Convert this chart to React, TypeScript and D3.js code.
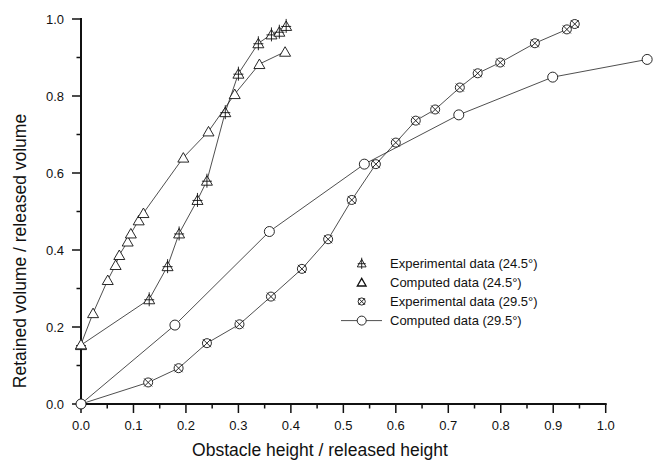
import { useMemo } from 'react'
import * as d3 from 'd3'

// Experimental data (24.5°)
const exp245X = [0, 0.130, 0.165, 0.187, 0.222, 0.240, 0.275, 0.300, 0.338, 0.363, 0.378, 0.391]
const exp245Y = [0.153, 0.272, 0.358, 0.443, 0.530, 0.580, 0.758, 0.858, 0.937, 0.960, 0.967, 0.982]

// Computed data (24.5°)
const com245X = [0, 0.023, 0.051, 0.066, 0.073, 0.089, 0.095, 0.110, 0.119, 0.195, 0.243, 0.293, 0.340, 0.389]
const com245Y = [0.155, 0.236, 0.322, 0.361, 0.387, 0.422, 0.443, 0.477, 0.496, 0.640, 0.708, 0.805, 0.883, 0.915]

// Experimental data (29.5°)
const exp295X = [0, 0.128, 0.186, 0.240, 0.302, 0.362, 0.421, 0.471, 0.516, 0.562, 0.600, 0.638, 0.675, 0.722, 0.756, 0.799, 0.865, 0.926, 0.941]
const exp295Y = [0, 0.056, 0.093, 0.158, 0.207, 0.279, 0.351, 0.428, 0.530, 0.623, 0.679, 0.736, 0.765, 0.822, 0.859, 0.887, 0.937, 0.973, 0.987]

// Computed data (29.5°)
const com295X = [0, 0.179, 0.359, 0.540, 0.720, 0.899, 1.079]
const com295Y = [0, 0.205, 0.448, 0.623, 0.751, 0.849, 0.895]

const xTicks = [0, 0.1, 0.2, 0.3, 0.4, 0.5, 0.6, 0.7, 0.8, 0.9, 1.0]
const yTicks = [0, 0.2, 0.4, 0.6, 0.8, 1.0]

const legendLabels = [
  'Experimental data (24.5°)',
  'Computed data (24.5°)',
  'Experimental data (29.5°)',
  'Computed data (29.5°)',
]

const FONT = '"Liberation Sans", Arial, Helvetica, sans-serif'
const INK = '#111'

const zip = (xs: number[], ys: number[]) => xs.map((x, i) => [x, ys[i]] as [number, number])

type MP = { x: number; y: number; s?: number }

// marker drawers
const CrossTri = ({ x, y, s = 1 }: MP) => (
  <g stroke={INK} strokeWidth={0.9} fill="#fff">
    <path d={`M${x - 5.5 * s},${y + 4.5 * s}L${x + 5.5 * s},${y + 4.5 * s}L${x},${y - 5 * s}Z`} />
    <line x1={x} x2={x} y1={y - 7 * s} y2={y + 7 * s} />
    <line x1={x - 5 * s} x2={x + 5 * s} y1={y + 0.5 * s} y2={y + 0.5 * s} />
  </g>
)

const OpenTri = ({ x, y, s = 1 }: MP) => (
  <path d={`M${x - 5.5 * s},${y + 4.5 * s}L${x + 5.5 * s},${y + 4.5 * s}L${x},${y - 5 * s}Z`}
    fill="#fff" stroke={INK} strokeWidth={s < 1 ? 1.3 : 0.9} />
)

const CrossCircle = ({ x, y, s = 1 }: MP) => (
  <g stroke={INK} strokeWidth={0.9} fill="#fff">
    <circle cx={x} cy={y} r={4.5 * s} />
    <line x1={x - 4 * s} x2={x + 4 * s} y1={y - 4 * s} y2={y + 4 * s} />
    <line x1={x - 4 * s} x2={x + 4 * s} y1={y + 4 * s} y2={y - 4 * s} />
  </g>
)

const OpenCircle = ({ x, y, s = 1 }: MP) => (
  <circle cx={x} cy={y} r={5 * s} fill="#fff" stroke={INK} strokeWidth={0.9} />
)

export default function App() {
  const width = 653
  const height = 461

  const x = useMemo(() => d3.scaleLinear().domain([0, 1]).range([81, 605.7]), [])
  const y = useMemo(() => d3.scaleLinear().domain([0, 1]).range([404, 19]), [])

  const line = d3.line<[number, number]>().x(d => x(d[0])).y(d => y(d[1]))

  const series = [
    { pts: zip(exp245X, exp245Y), Marker: CrossTri },
    { pts: zip(com245X, com245Y), Marker: OpenTri },
    { pts: zip(exp295X, exp295Y), Marker: CrossCircle },
    { pts: zip(com295X, com295Y), Marker: OpenCircle },
  ]

  const xMinor = d3.range(0.05, 1, 0.1)
  const yMinor = d3.range(0.1, 1, 0.2)

  return (
    <svg width={width} height={height} style={{ position: 'absolute', left: 0, top: 0, background: '#fff' }}
      fontFamily={FONT}>
      {/* series lines */}
      {series.map((s, i) => (
        <path key={i} d={line(s.pts) || ''} fill="none" stroke="#222" strokeWidth={0.8} />
      ))}

      {/* axes */}
      <g stroke={INK}>
        <line x1={x(0)} x2={x(1) + 1} y1={y(0)} y2={y(0)} strokeWidth={2} />
        <line x1={x(0)} x2={x(0)} y1={y(1) - 1} y2={y(0)} strokeWidth={2} />
        {xTicks.map(t => (
          <line key={'xt' + t} x1={x(t)} x2={x(t)} y1={y(0)} y2={y(0) + 9} strokeWidth={1.5} />
        ))}
        {xMinor.map(t => (
          <line key={'xm' + t} x1={x(t)} x2={x(t)} y1={y(0)} y2={y(0) + 4.5} strokeWidth={1.5} />
        ))}
        {yTicks.map(t => (
          <line key={'yt' + t} x1={x(0) - 9} x2={x(0)} y1={y(t)} y2={y(t)} strokeWidth={1.5} />
        ))}
        {yMinor.map(t => (
          <line key={'ym' + t} x1={x(0) - 4.5} x2={x(0)} y1={y(t)} y2={y(t)} strokeWidth={1.5} />
        ))}
      </g>
      {xTicks.map(t => (
        <text key={'xl' + t} x={x(t)} y={430} fontSize={13} textAnchor="middle" fill={INK}>
          {d3.format('.1f')(t)}
        </text>
      ))}
      {yTicks.map(t => (
        <text key={'yl' + t} x={64} y={y(t) + 4.5} fontSize={13} textAnchor="end" fill={INK}>
          {d3.format('.1f')(t)}
        </text>
      ))}

      {/* markers */}
      {series.map((s, i) => (
        <g key={'m' + i}>
          {s.pts.map((p, j) => <s.Marker key={j} x={x(p[0])} y={y(p[1])} />)}
        </g>
      ))}

      {/* axis titles */}
      <text x={320} y={456} fontSize={17.5} textAnchor="middle" fill={INK}>
        Obstacle height / released height
      </text>
      <text transform="translate(26,251) rotate(-90)" fontSize={17.5} textAnchor="middle" fill={INK}>
        Retained volume / released volume
      </text>

      {/* legend */}
      <g>
        {legendLabels.map((lab, i) => {
          const ly = 263.3 + i * 19.1
          const Marker = series[i].Marker
          return (
            <g key={lab}>
              {i === 3 && <line x1={341} x2={382} y1={ly} y2={ly} stroke="#222" strokeWidth={0.8} />}
              <Marker x={361.7} y={ly} s={i === 3 ? 0.9 : 0.8} />
              <text x={390} y={ly + 4.5} fontSize={13} fill={INK}>{lab}</text>
            </g>
          )
        })}
      </g>
    </svg>
  )
}
